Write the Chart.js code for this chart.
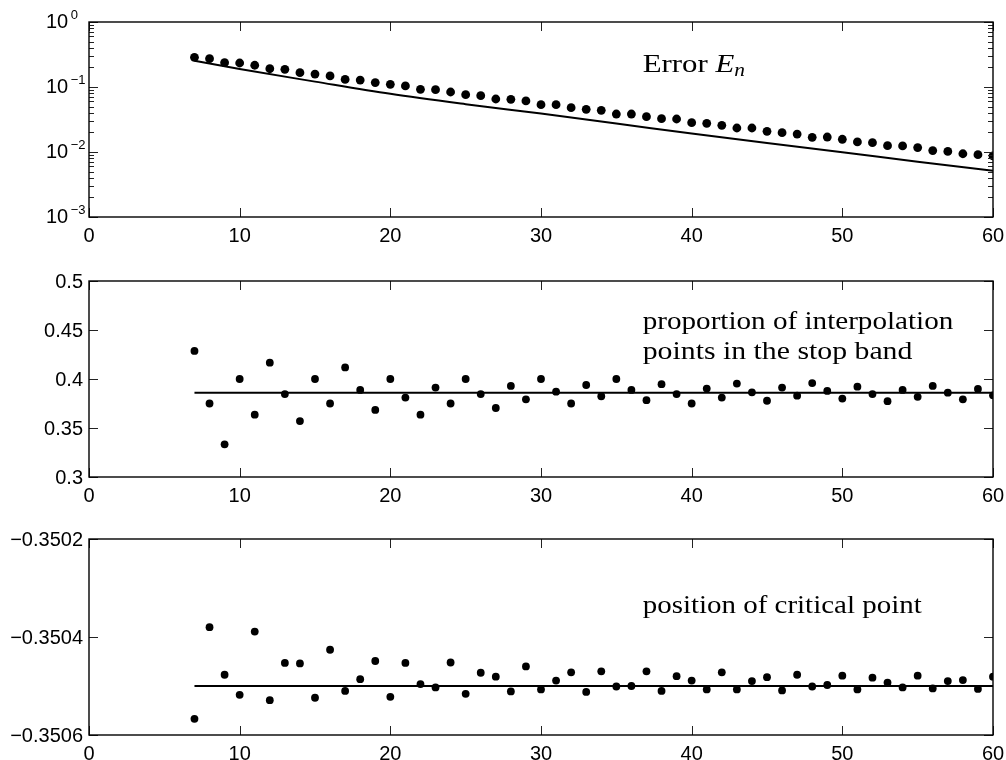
<!DOCTYPE html>
<html><head><meta charset="utf-8">
<script src="https://cdn.jsdelivr.net/npm/chart.js@4.4.0/dist/chart.umd.min.js"></script>
<style>
html,body{margin:0;padding:0;background:#fff;}
#wrap{position:relative;width:1006px;height:760px;overflow:hidden;background:#fff;}
canvas{position:absolute;left:0;}
</style></head><body>
<div id="wrap">
<canvas id="c1" width="1006" height="260" style="top:0px"></canvas>
<canvas id="c2" width="1006" height="258" style="top:260px"></canvas>
<canvas id="c3" width="1006" height="242" style="top:518px"></canvas>
</div>
<script>
// ---------- data ----------
const nValues = [7,8,9,10,11,12,13,14,15,16,17,18,19,20,21,22,23,24,25,26,27,28,29,30,31,32,33,34,
  35,36,37,38,39,40,41,42,43,44,45,46,47,48,49,50,51,52,53,54,55,56,57,58,59,60];

const errorDots = [0.286,0.273,0.237,0.234,0.216,0.191,0.187,0.166,0.158,0.148,0.131,0.128,0.117,0.110,
  0.104,0.092,0.091,0.0838,0.0762,0.0736,0.0654,0.0646,0.061,0.0535,0.0535,0.0481,0.0453,0.0437,
  0.0384,0.0384,0.035,0.0326,0.0322,0.0283,0.0276,0.0257,0.0234,0.0234,0.0208,0.0198,0.0189,0.0168,
  0.017,0.0157,0.0143,0.0139,0.0125,0.0124,0.0117,0.0105,0.0102,0.0094,0.0091,0.0087];

const errorLineN = [7,10,15,20,25,30,35,40,45,50,55,60];
const errorLine  = [0.254,0.189,0.121,0.0785,0.0545,0.039,0.0275,0.0192,0.0137,0.0099,0.0071,0.00516];

const proportion = [0.4286,0.375,0.3333,0.4,0.3636,0.4167,0.3846,0.3571,0.4,0.375,0.4118,0.3889,0.3684,0.4,
  0.381,0.3636,0.3913,0.375,0.4,0.3846,0.3704,0.3929,0.3793,0.4,0.3871,0.375,0.3939,0.3824,
  0.4,0.3889,0.3784,0.3947,0.3846,0.375,0.3902,0.381,0.3953,0.3864,0.3778,0.3913,0.383,0.3958,
  0.3878,0.38,0.3922,0.3846,0.3774,0.3889,0.3818,0.3929,0.386,0.3793,0.3898,0.3833];
const proportionLineN = [7,60];
const proportionLine  = [0.386,0.386];

const critical = [-0.350567,-0.350380,-0.350477,-0.350518,-0.350389,-0.350529,-0.350453,-0.350454,
  -0.350524,-0.350426,-0.350510,-0.350486,-0.350449,-0.350522,-0.350453,-0.350496,-0.350503,-0.350452,
  -0.350516,-0.350473,-0.350481,-0.350511,-0.350460,-0.350507,-0.350489,-0.350472,-0.350512,-0.350470,
  -0.350501,-0.350500,-0.350470,-0.350510,-0.350480,-0.350489,-0.350507,-0.350472,-0.350507,-0.350490,
  -0.350482,-0.350509,-0.350477,-0.350501,-0.350498,-0.350479,-0.350507,-0.350483,-0.350493,-0.350503,
  -0.350479,-0.350505,-0.350490,-0.350488,-0.350506,-0.350481];
const criticalLineN = [7,60];
const criticalLine  = [-0.3505,-0.3505];

const xTicks = [0,10,20,30,40,50,60];
const xTickLabels = ['0','10','20','30','40','50','60'];
const y1Ticks = [0.001,0.01,0.1,1];
const y1Exponents = ['\u22123','\u22122','\u22121','0'];
const y2Ticks = [0.3,0.35,0.4,0.45,0.5];
const y2TickLabels = ['0.3','0.35','0.4','0.45','0.5'];
const y3Ticks = [-0.3506,-0.3504,-0.3502];
const y3TickLabels = ['\u22120.3506','\u22120.3504','\u22120.3502'];

// ---------- helpers ----------
const SANS = '"Liberation Sans", Arial, sans-serif';
const SERIF = '"Liberation Serif", "Times New Roman", serif';

function pts(xs, ys){ return xs.map((x,i)=>({x:x, y:ys[i]})); }

function minorLog(){
  const m=[];
  [0.001,0.01,0.1].forEach(d=>{ for(let k=2;k<=9;k++) m.push(d*k); });
  return m;
}

const panelCfg = {
  c1: { yTicks:y1Ticks, logExp:y1Exponents, minor:minorLog(),
        texts:[{x:642.7, y:71.7, w:102.3, segs:[
          {t:'Error ', f:'26px '+SERIF},
          {t:'E', f:'italic 26px '+SERIF},
          {t:'n', f:'italic 18px '+SERIF, dy:4}]}]},
  c2: { yTicks:y2Ticks, yLabels:y2TickLabels,
        texts:[{x:642.7, y:69.3, w:310.6, segs:[{t:'proportion of interpolation', f:'26px '+SERIF}]},
               {x:642.7, y:99, w:269.7, segs:[{t:'points in the stop band', f:'26px '+SERIF}]}]},
  c3: { yTicks:y3Ticks, yLabels:y3TickLabels,
        texts:[{x:642.7, y:95.3, w:279, segs:[{t:'position of critical point', f:'26px '+SERIF}]}]}
};

function drawRich(ctx, t){
  let total=0;
  t.segs.forEach(s=>{ ctx.font=s.f; s.wd=ctx.measureText(s.t).width; total+=s.wd; });
  const sc = t.w/total;
  ctx.save();
  ctx.translate(t.x, t.y);
  ctx.scale(sc,1);
  ctx.fillStyle='#000';
  ctx.textAlign='left';
  ctx.textBaseline='alphabetic';
  let cx=0;
  t.segs.forEach(s=>{ ctx.font=s.f; ctx.fillText(s.t, cx, s.dy||0); cx+=s.wd; });
  ctx.restore();
}

const matlabPlugin = {
  id:'matlabAxes',
  afterDraw(chart){
    const cfg = panelCfg[chart.canvas.id];
    const ctx = chart.ctx;
    const a = chart.chartArea;
    const xs = chart.scales.x, ys = chart.scales.y;
    ctx.save();
    // ticks
    ctx.strokeStyle='#222';
    ctx.lineWidth=1;
    ctx.beginPath();
    xTicks.forEach(t=>{
      const px=Math.round(xs.getPixelForValue(t))+0.5;
      ctx.moveTo(px,a.bottom); ctx.lineTo(px,a.bottom-9);
      ctx.moveTo(px,a.top); ctx.lineTo(px,a.top+9);
    });
    cfg.yTicks.forEach(t=>{
      const py=Math.round(ys.getPixelForValue(t))+0.5;
      ctx.moveTo(a.left,py); ctx.lineTo(a.left+9,py);
      ctx.moveTo(a.right,py); ctx.lineTo(a.right-9,py);
    });
    (cfg.minor||[]).forEach(t=>{
      const py=Math.round(ys.getPixelForValue(t))+0.5;
      ctx.moveTo(a.left,py); ctx.lineTo(a.left+5,py);
      ctx.moveTo(a.right,py); ctx.lineTo(a.right-5,py);
    });
    ctx.stroke();
    // box
    ctx.strokeStyle='#000';
    ctx.lineWidth=1.4;
    ctx.strokeRect(a.left, a.top, a.right-a.left, a.bottom-a.top);
    // x labels
    ctx.fillStyle='#000';
    ctx.font='20px '+SANS;
    ctx.textAlign='center';
    ctx.textBaseline='alphabetic';
    xTicks.forEach((t,i)=>{
      ctx.fillText(xTickLabels[i], xs.getPixelForValue(t), a.bottom+25);
    });
    // y labels
    if(cfg.logExp){
      cfg.yTicks.forEach((t,i)=>{
        const py=ys.getPixelForValue(t);
        ctx.font='20px '+SANS;
        ctx.textAlign='left';
        ctx.textBaseline='middle';
        ctx.fillText('10', 46, py);
        const w=ctx.measureText('10').width;
        ctx.font='13px '+SANS;
        ctx.textBaseline='alphabetic';
        ctx.fillText(cfg.logExp[i], 46+w+2.5, py-3);
      });
    } else {
      ctx.font='20px '+SANS;
      ctx.textAlign='right';
      ctx.textBaseline='middle';
      cfg.yTicks.forEach((t,i)=>{
        ctx.fillText(cfg.yLabels[i], a.left-6, ys.getPixelForValue(t)+1);
      });
    }
    ctx.restore();
    cfg.texts.forEach(t=>drawRich(ctx,t));
  }
};

function dotSet(ys, r){
  return {data:pts(nValues, ys), showLine:false, pointRadius:r, pointHoverRadius:r,
    pointBackgroundColor:'#000', pointBorderColor:'#000', pointBorderWidth:0, clip:0};
}
function lineSet(xs, ys){
  return {data:pts(xs, ys), showLine:true, pointRadius:0, pointHoverRadius:0,
    borderColor:'#000', borderWidth:2, fill:false, cubicInterpolationMode:'monotone', clip:0};
}

function makeChart(id, datasets, yScale, pad){
  return new Chart(document.getElementById(id), {
    type:'scatter',
    data:{datasets:datasets},
    options:{
      responsive:false, animation:false, devicePixelRatio:1, events:[],
      layout:{padding:pad},
      plugins:{legend:{display:false}, tooltip:{enabled:false}},
      scales:{
        x:{type:'linear', min:0, max:60, display:false},
        y:Object.assign({display:false}, yScale)
      }
    },
    plugins:[matlabPlugin]
  });
}

makeChart('c1', [lineSet(errorLineN, errorLine), dotSet(errorDots, 4.4)],
  {type:'logarithmic', min:0.001, max:1}, {left:89, right:13, top:22, bottom:43});
makeChart('c2', [lineSet(proportionLineN, proportionLine), dotSet(proportion, 3.9)],
  {type:'linear', min:0.3, max:0.5}, {left:89, right:13, top:21, bottom:41});
makeChart('c3', [lineSet(criticalLineN, criticalLine), dotSet(critical, 3.9)],
  {type:'linear', min:-0.3506, max:-0.3502}, {left:89, right:13, top:21, bottom:25});
</script>
</body></html>
